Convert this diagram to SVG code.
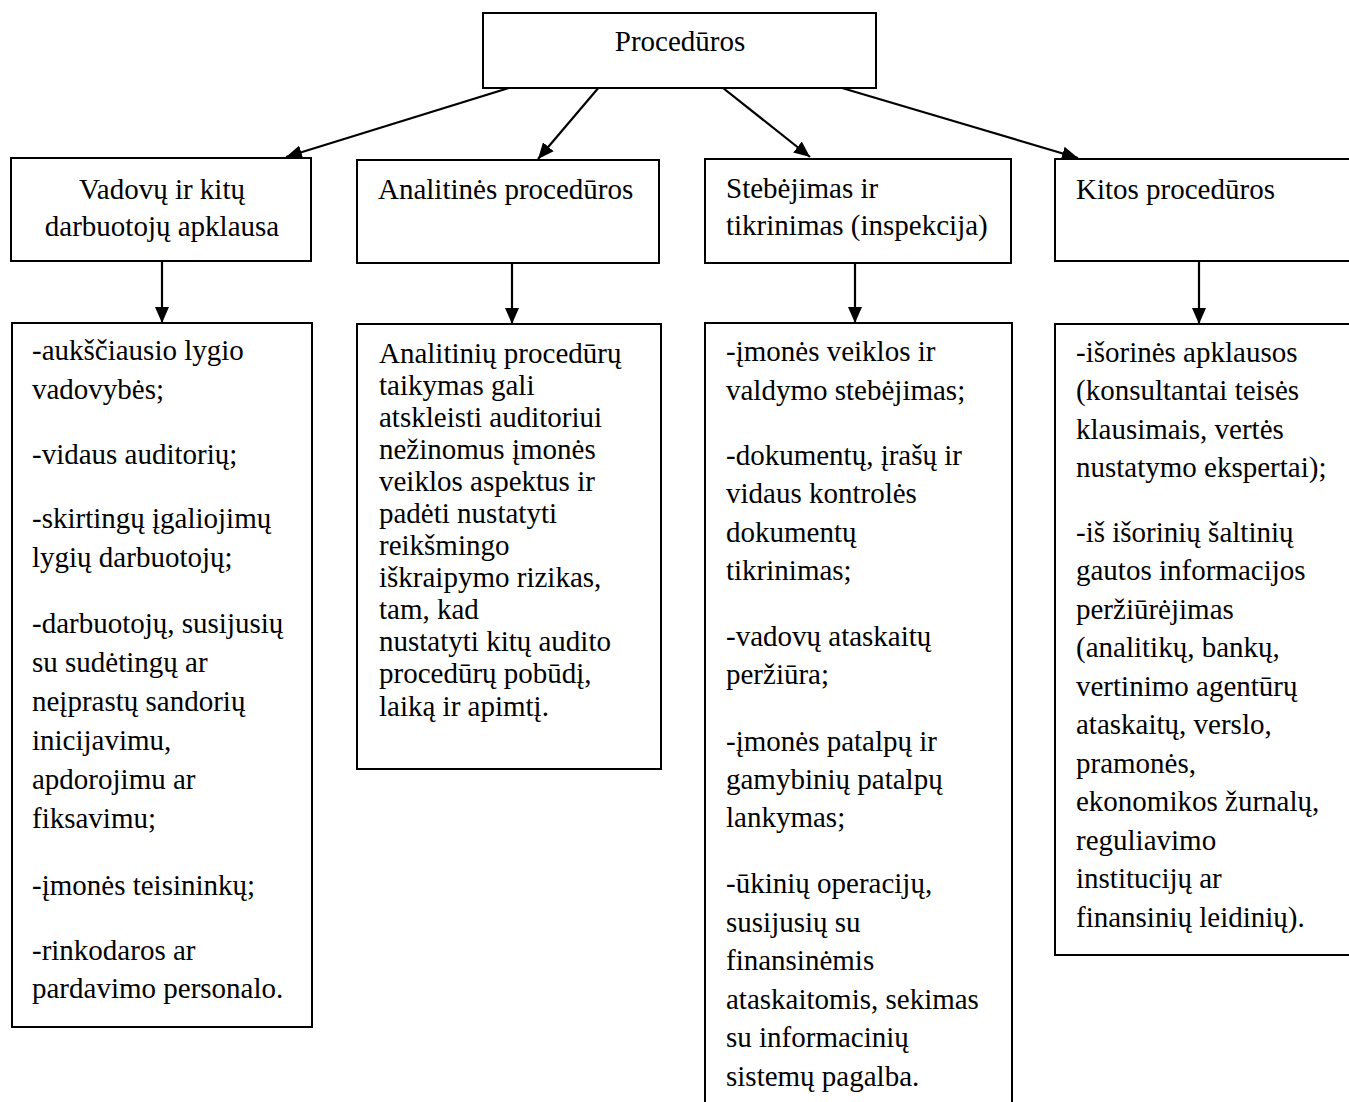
<svg xmlns="http://www.w3.org/2000/svg" width="1349" height="1102" viewBox="0 0 1349 1102">
<style>
.box{fill:#fff;stroke:#000;stroke-width:2}
.t{font-family:"Liberation Serif","Times New Roman",serif;font-size:29px;fill:#000}
.c{text-anchor:middle}
.edge{stroke:#000;stroke-width:2.2;fill:none;marker-end:url(#ah)}
</style>
<defs>
<marker id="ah" markerUnits="userSpaceOnUse" markerWidth="16" markerHeight="14" refX="16" refY="7" orient="auto">
<path d="M0,0 L16,7 L0,14 z" fill="#000"/>
</marker>
</defs>
<rect width="1349" height="1102" fill="#fff"/>

<g id="connectors">
<line class="edge" x1="512" y1="87" x2="286" y2="157"/>
<line class="edge" x1="600" y1="86" x2="538" y2="159"/>
<line class="edge" x1="718" y1="84" x2="810" y2="157"/>
<line class="edge" x1="842" y1="88" x2="1078" y2="158"/>
<line class="edge" x1="162" y1="262" x2="162" y2="323"/>
<line class="edge" x1="512" y1="264" x2="512" y2="324"/>
<line class="edge" x1="855" y1="263" x2="855" y2="323"/>
<line class="edge" x1="1199" y1="262" x2="1199" y2="324"/>
</g>

<g id="n-root">
<rect class="box" x="483" y="13" width="393" height="75"/>
<text class="t c" x="680" y="51">Procedūros</text>
</g>

<g id="n-vadovu">
<rect class="box" x="11" y="158" width="300" height="103"/>
<text class="t c" x="162" y="199">Vadovų ir kitų</text>
<text class="t c" x="162" y="236">darbuotojų apklausa</text>
</g>

<g id="n-analitines">
<rect class="box" x="357" y="160" width="302" height="103"/>
<text class="t" x="378" y="199">Analitinės procedūros</text>
</g>

<g id="n-stebejimas">
<rect class="box" x="705" y="159" width="306" height="104"/>
<text class="t" x="726" y="198">Stebėjimas ir</text>
<text class="t" x="726" y="235">tikrinimas (inspekcija)</text>
</g>

<g id="n-kitos">
<rect class="box" x="1055" y="159" width="310" height="102"/>
<text class="t" x="1076" y="199">Kitos procedūros</text>
</g>

<g id="n-vadovu-list">
<rect class="box" x="12" y="323" width="300" height="704"/>
<text class="t" x="32" y="360">-aukščiausio lygio</text>
<text class="t" x="32" y="399">vadovybės;</text>
<text class="t" x="32" y="464">-vidaus auditorių;</text>
<text class="t" x="32" y="528">-skirtingų įgaliojimų</text>
<text class="t" x="32" y="567">lygių darbuotojų;</text>
<text class="t" x="32" y="633">-darbuotojų, susijusių</text>
<text class="t" x="32" y="672">su sudėtingų ar</text>
<text class="t" x="32" y="711">neįprastų sandorių</text>
<text class="t" x="32" y="750">inicijavimu,</text>
<text class="t" x="32" y="789">apdorojimu ar</text>
<text class="t" x="32" y="828">fiksavimu;</text>
<text class="t" x="32" y="895">-įmonės teisininkų;</text>
<text class="t" x="32" y="960">-rinkodaros ar</text>
<text class="t" x="32" y="998">pardavimo personalo.</text>
</g>

<g id="n-analitines-text">
<rect class="box" x="357" y="324" width="304" height="445"/>
<text class="t" x="379" y="363">Analitinių procedūrų</text>
<text class="t" x="379" y="395">taikymas gali</text>
<text class="t" x="379" y="427">atskleisti auditoriui</text>
<text class="t" x="379" y="459">nežinomus įmonės</text>
<text class="t" x="379" y="491">veiklos aspektus ir</text>
<text class="t" x="379" y="523">padėti nustatyti</text>
<text class="t" x="379" y="555">reikšmingo</text>
<text class="t" x="379" y="587">iškraipymo rizikas,</text>
<text class="t" x="379" y="619">tam, kad</text>
<text class="t" x="379" y="651">nustatyti kitų audito</text>
<text class="t" x="379" y="683">procedūrų pobūdį,</text>
<text class="t" x="379" y="716">laiką ir apimtį.</text>
</g>

<g id="n-stebejimas-list">
<rect class="box" x="705" y="323" width="307" height="800"/>
<text class="t" x="726" y="361">-įmonės veiklos ir</text>
<text class="t" x="726" y="400">valdymo stebėjimas;</text>
<text class="t" x="726" y="465">-dokumentų, įrašų ir</text>
<text class="t" x="726" y="503">vidaus kontrolės</text>
<text class="t" x="726" y="542">dokumentų</text>
<text class="t" x="726" y="580">tikrinimas;</text>
<text class="t" x="726" y="646">-vadovų ataskaitų</text>
<text class="t" x="726" y="684">peržiūra;</text>
<text class="t" x="726" y="751">-įmonės patalpų ir</text>
<text class="t" x="726" y="789">gamybinių patalpų</text>
<text class="t" x="726" y="827">lankymas;</text>
<text class="t" x="726" y="893">-ūkinių operacijų,</text>
<text class="t" x="726" y="932">susijusių su</text>
<text class="t" x="726" y="970">finansinėmis</text>
<text class="t" x="726" y="1009">ataskaitomis, sekimas</text>
<text class="t" x="726" y="1047">su informacinių</text>
<text class="t" x="726" y="1086">sistemų pagalba.</text>
</g>

<g id="n-kitos-list">
<rect class="box" x="1055" y="324" width="310" height="631"/>
<text class="t" x="1076" y="362">-išorinės apklausos</text>
<text class="t" x="1076" y="400">(konsultantai teisės</text>
<text class="t" x="1076" y="439">klausimais, vertės</text>
<text class="t" x="1076" y="477">nustatymo ekspertai);</text>
<text class="t" x="1076" y="542">-iš išorinių šaltinių</text>
<text class="t" x="1076" y="580">gautos informacijos</text>
<text class="t" x="1076" y="619">peržiūrėjimas</text>
<text class="t" x="1076" y="657">(analitikų, bankų,</text>
<text class="t" x="1076" y="696">vertinimo agentūrų</text>
<text class="t" x="1076" y="734">ataskaitų, verslo,</text>
<text class="t" x="1076" y="773">pramonės,</text>
<text class="t" x="1076" y="811">ekonomikos žurnalų,</text>
<text class="t" x="1076" y="850">reguliavimo</text>
<text class="t" x="1076" y="888">institucijų ar</text>
<text class="t" x="1076" y="927">finansinių leidinių).</text>
</g>
</svg>
